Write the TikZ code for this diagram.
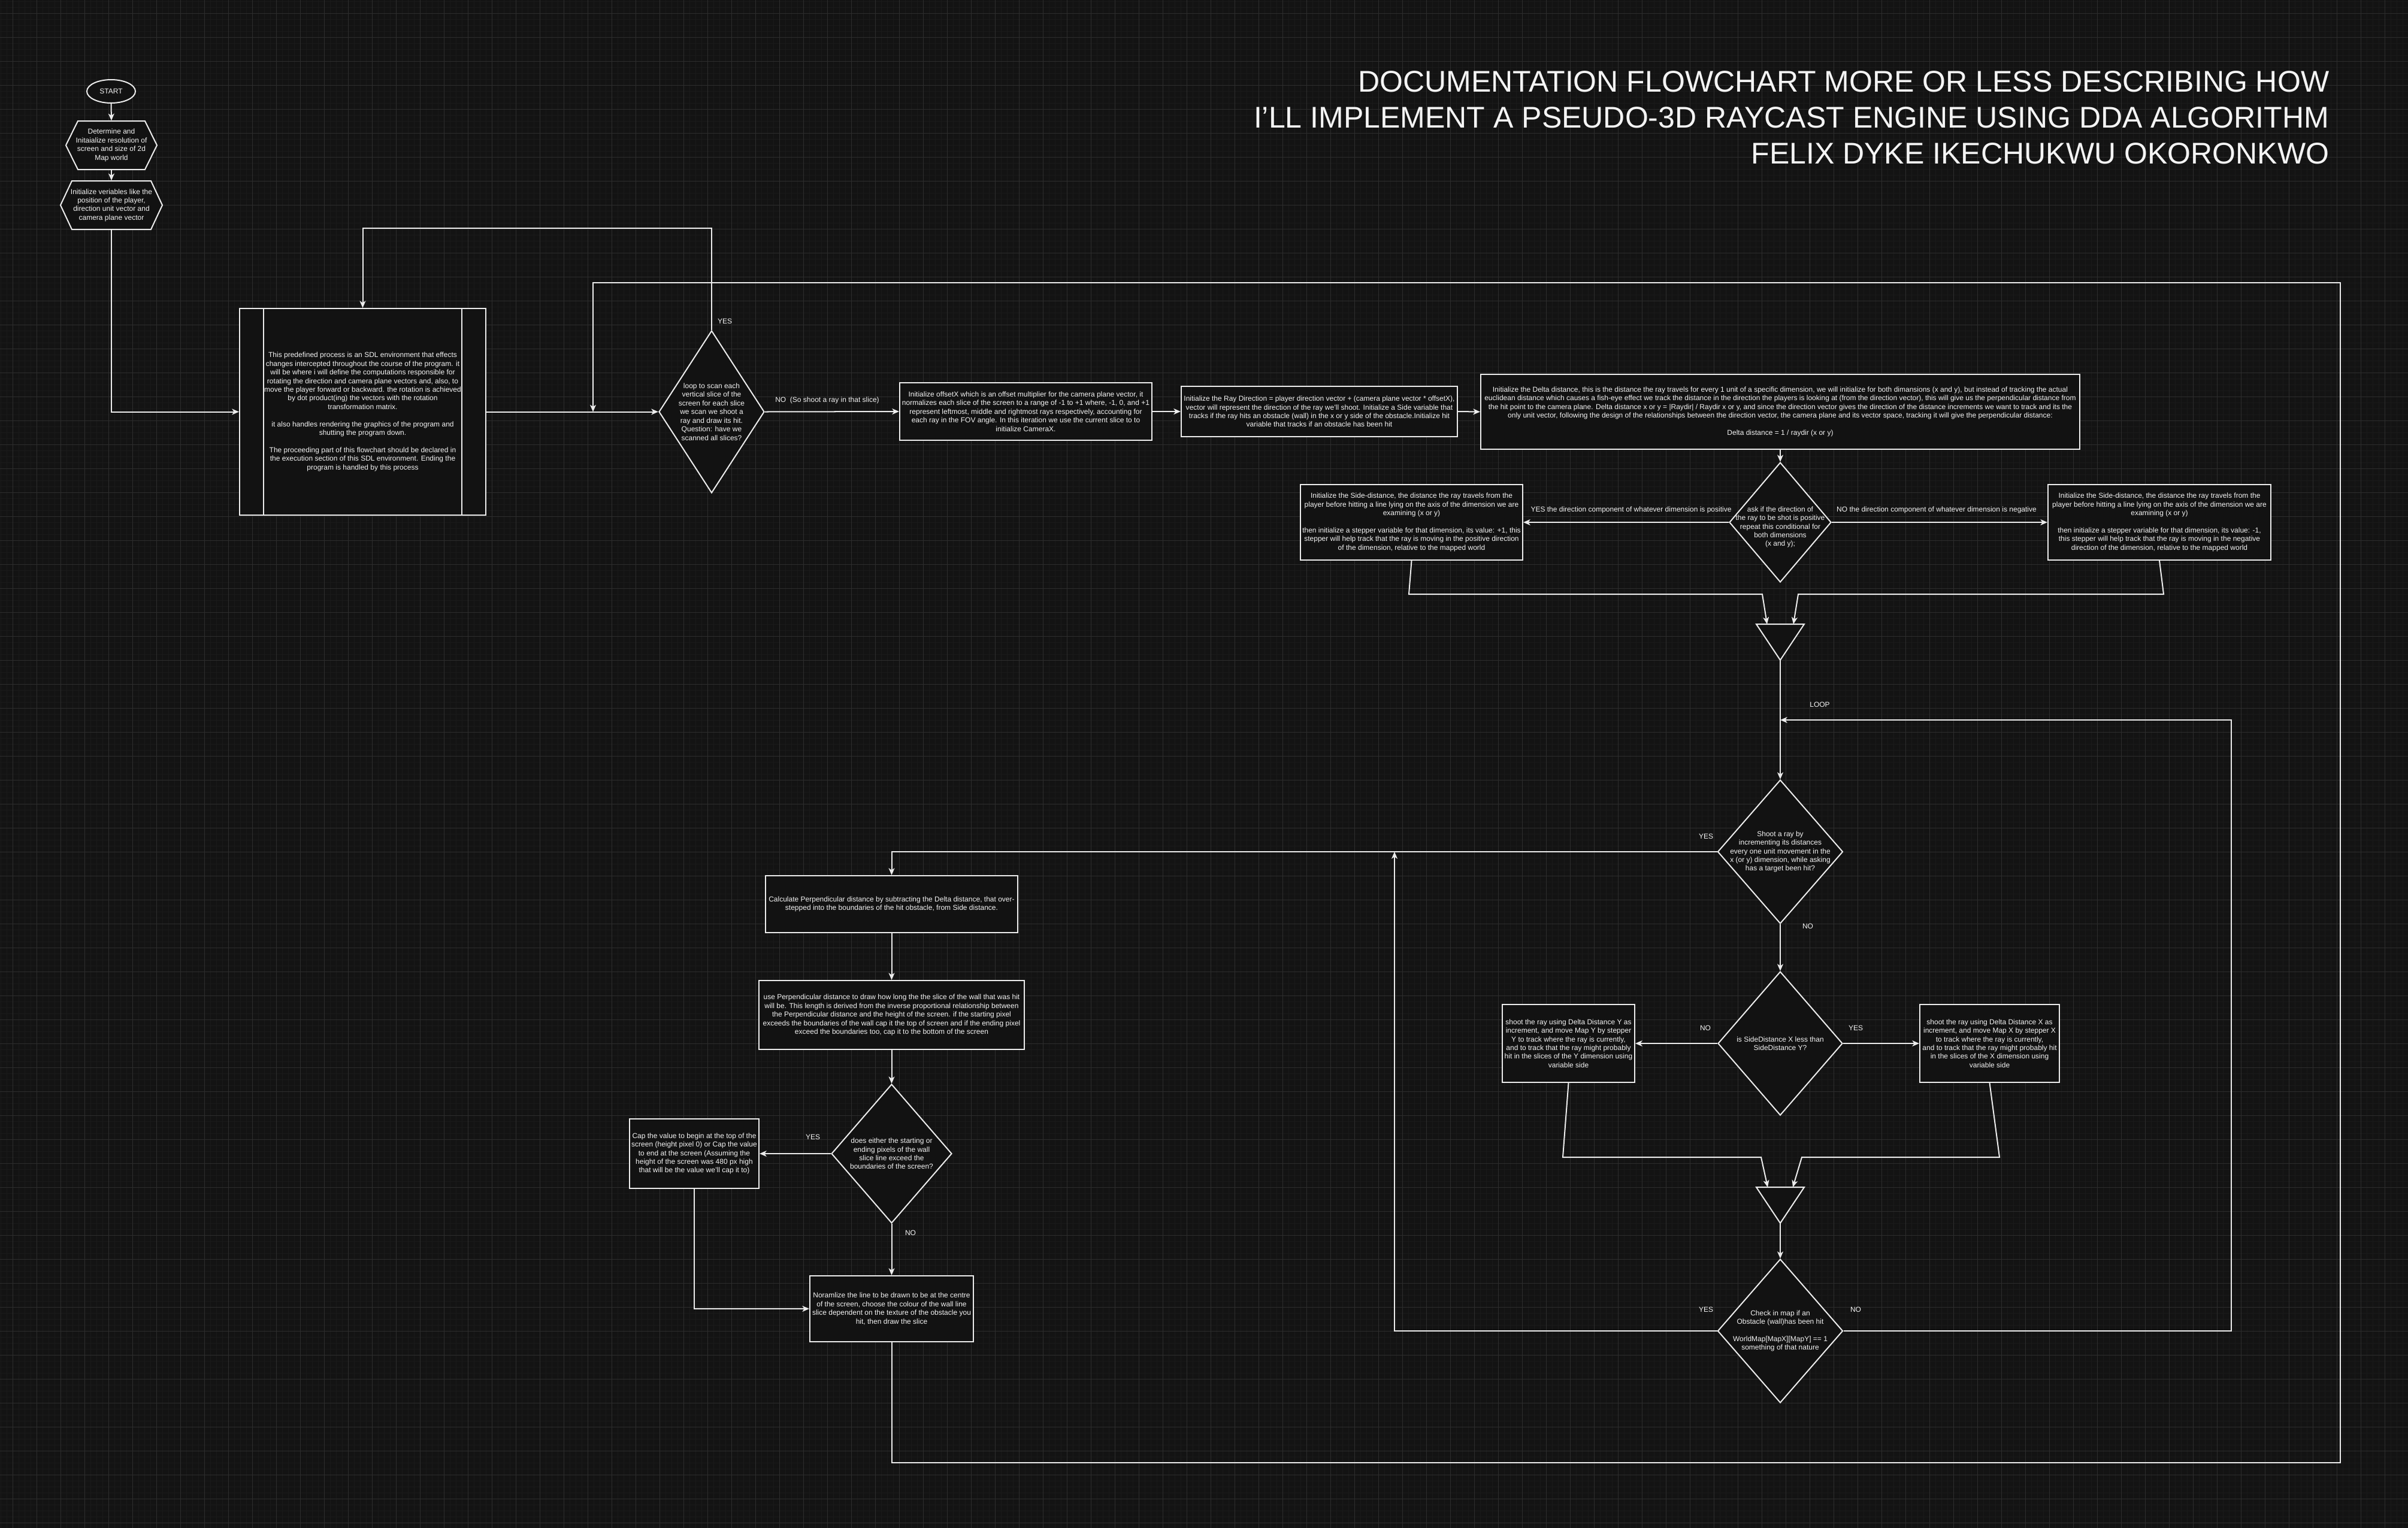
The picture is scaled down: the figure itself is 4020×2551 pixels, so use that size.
\documentclass[tikz,border=0pt]{standalone}
\usepackage{fontspec}
\setmainfont{Liberation Sans}
\usetikzlibrary{shapes.geometric,arrows.meta,calc}
\definecolor{bgc}{HTML}{131313}
\definecolor{gridc}{HTML}{1A1A1A}
\definecolor{gridm}{HTML}{2D2D2D}
\definecolor{boxf}{HTML}{121212}
\definecolor{lnc}{HTML}{ECECEC}
\definecolor{txc}{HTML}{F4F4F4}
\newcommand{\smf}{\fontsize{3.414pt}{4.097pt}\selectfont}
\newcommand{\ttlf}{\fontsize{14.23pt}{17.07pt}\selectfont}
\tikzset{
  sz/.style 2 args={minimum width=#1*0.01cm, minimum height=#2*0.01cm},
  basestyle/.style={line width=0.57pt, draw=lnc, fill=boxf, text=txc, font=\smf, align=center, inner sep=0pt},
  boxs/.style 2 args={basestyle, rectangle, sz={#1}{#2}},
  dias/.style 2 args={basestyle, diamond, sz={#1}{#2}},
  txtn/.style={text=txc, font=\smf, align=center, inner sep=0pt},
  lbl/.style={text=txc, font=\smf, inner sep=0pt},
  conn/.style={draw=lnc, line width=0.57pt},
  arr/.style={conn, -{Stealth[length=3.3pt, width=2.8pt, inset=0.9pt]}},
  gridl/.style={draw=gridc, line width=0.28pt},
}
\begin{document}
\begin{tikzpicture}[x=0.01cm, y=-0.01cm]
\useasboundingbox (0,0) rectangle (4020,2551);
\fill[bgc] (0,0) rectangle (4020,2551);
\foreach \gx in {1,11,...,4020} \draw[gridl] (\gx,0) -- (\gx,2551);
\foreach \gy in {2,12,...,2551} \draw[gridl] (0,\gy) -- (4020,\gy);
\foreach \gx in {21,61,...,4020} \draw[gridl, draw=gridm] (\gx,0) -- (\gx,2551);
\foreach \gy in {22,62,...,2551} \draw[gridl, draw=gridm] (0,\gy) -- (4020,\gy);

% title
\node[text=txc, font=\ttlf, align=right, anchor=east, inner sep=0pt] (title) at (3889,196)
 {DOCUMENTATION FLOWCHART MORE OR LESS DESCRIBING HOW\\I'LL IMPLEMENT A PSEUDO-3D RAYCAST ENGINE USING DDA ALGORITHM\\FELIX DYKE IKECHUKWU OKORONKWO};

% start and hexagons
\node[basestyle, ellipse, sz={81}{39}] (start) at (185.5,152.5) {START};
\draw[conn, fill=boxf] (110,242.5) -- (130,202) -- (242,202) -- (262,242.5) -- (242,283) -- (130,283) -- cycle;
\node[txtn, sz={152}{81}] (h1) at (186,242.5) {Determine and\\Initaialize resolution of\\screen and size of 2d\\Map world};
\draw[conn, fill=boxf] (101,342.5) -- (120,302) -- (252,302) -- (271,342.5) -- (252,383) -- (120,383) -- cycle;
\node[txtn, sz={170}{81}] (h2) at (186,342.5) {Initialize veriables like the\\position of the player,\\direction unit vector and\\camera plane vector};

% predefined process
\node[boxs={411}{345}] (pre) at (605.5,687.5) {This predefined process is an SDL environment that effects\\changes intercepted throughout the course of the program. it\\will be where i will define the computations responsible for\\rotating the direction and camera plane vectors and, also, to\\move the player forward or backward. the rotation is achieved\\by dot product(ing) the vectors with the rotation\\transformation matrix.\\[4.1pt]it also handles rendering the graphics of the program and\\shutting the program down.\\[4.1pt]The proceeding part of this flowchart should be declared in\\the execution section of this SDL environment. Ending the\\program is handled by this process};
\draw[conn] ($(pre.north west)+(41,0)$) -- ($(pre.south west)+(41,0)$);
\draw[conn] ($(pre.north east)+(-41,0)$) -- ($(pre.south east)+(-41,0)$);

% loop diamond
\node[dias={176}{271}] (loopd) at (1188,687.5) {};
\node[txtn] (loopdt) at (loopd) {loop to scan each\\vertical slice of the\\screen for each slice\\we scan we shoot a\\ray and draw its hit.\\Question: have we\\scanned all slices?};

% top row boxes
\node[boxs={421}{96}] (off) at (1712.5,687) {Initialize offsetX which is an offset multiplier for the camera plane vector, it\\normalizes each slice of the screen to a range of -1 to +1 where, -1, 0, and +1\\represent leftmost, middle and rightmost rays respectively, accounting for\\each ray in the FOV angle. In this iteration we use the current slice to to\\initialize CameraX.};
\node[boxs={461}{84}] (ray) at (2202.5,687) {Initialize the Ray Direction = player direction vector + (camera plane vector * offsetX),\\vector will represent the direction of the ray we'll shoot. Initialize a Side variable that\\tracks if the ray hits an obstacle (wall) in the x or y side of the obstacle.Initialize hit\\variable that tracks if an obstacle has been hit};
\node[boxs={1000}{125}] (delta) at (2972,687.5) {Initialize the Delta distance, this is the distance the ray travels for every 1 unit of a specific dimension, we will initialize for both dimansions (x and y), but instead of tracking the actual\\euclidean distance which causes a fish-eye effect we track the distance in the direction the players is looking at (from the direction vector), this will give us the perpendicular distance from\\the hit point to the camera plane. Delta distance x or y = |Raydir| / Raydir x or y, and since the direction vector gives the direction of the distance increments we want to track and its the\\only unit vector, following the design of the relationships between the direction vector, the camera plane and its vector space, tracking it will give the perpendicular distance:\\[4.1pt]Delta distance = 1 / raydir (x or y)};

% ask diamond and side boxes
\node[dias={170}{200}] (ask) at (2972,872) {};
\node[txtn] (askt) at ($(ask)+(0,8)$) {ask if the direction of\\the ray to be shot is positive\\repeat this conditional for\\both dimensions\\(x and y);};
\node[boxs={371}{126}] (sideL) at (2356.5,872) {Initialize the Side-distance, the distance the ray travels from the\\player before hitting a line lying on the axis of the dimension we are\\examining (x or y)\\[4.1pt]then initialize a stepper variable for that dimension, its value: +1, this\\stepper will help track that the ray is moving in the positive direction\\of the dimension, relative to the mapped world};
\node[boxs={372}{126}] (sideR) at (3605,872) {Initialize the Side-distance, the distance the ray travels from the\\player before hitting a line lying on the axis of the dimension we are\\examining (x or y)\\[4.1pt]then initialize a stepper variable for that dimension, its value: -1,\\this stepper will help track that the ray is moving in the negative\\direction of the dimension, relative to the mapped world};

% merge 1
\node[inner sep=0pt, outer sep=0pt, sz={80}{60}] (m1) at (2972,1072) {};
\draw[conn, fill=boxf] (m1.north west) -- (m1.north east) -- (m1.south) -- cycle;

% shoot diamond
\node[dias={209}{240}] (shoot) at (2972,1422) {};
\node[txtn] (shoott) at (shoot) {Shoot a ray by\\incrementing its distances\\every one unit movement in the\\x (or y) dimension, while asking\\has a target been hit?};

% side distance comparison
\node[dias={208}{240}] (sd) at (2972,1742) {};
\node[txtn] (sdt) at (sd) {is SideDistance X less than\\SideDistance Y?};
\node[boxs={221}{130}] (boxY) at (2618.5,1742) {shoot the ray using Delta Distance Y as\\increment, and move Map Y by stepper\\Y to track where the ray is currently,\\and to track that the ray might probably\\hit in the slices of the Y dimension using\\variable side};
\node[boxs={233}{130}] (boxX) at (3321.5,1742) {shoot the ray using Delta Distance X as\\increment, and move Map X by stepper X\\to track where the ray is currently,\\and to track that the ray might probably hit\\in the slices of the X dimension using\\variable side};

% merge 2
\node[inner sep=0pt, outer sep=0pt, sz={80}{60}] (m2) at (2972,2012) {};
\draw[conn, fill=boxf] (m2.north west) -- (m2.north east) -- (m2.south) -- cycle;

% check diamond
\node[dias={209}{240}] (check) at (2972,2222) {};
\node[txtn] (checkt) at (check) {Check in map if an\\Obstacle (wall)has been hit\\[4.1pt]WorldMap[MapX][MapY] == 1\\something of that nature};

% left column
\node[boxs={421}{95}] (calc) at (1488.5,1509.5) {Calculate Perpendicular distance by subtracting the Delta distance, that over-\\stepped into the boundaries of the hit obstacle, from Side distance.};
\node[boxs={443}{115}] (use) at (1488.5,1694.5) {use Perpendicular distance to draw how long the the slice of the wall that was hit\\will be. This length is derived from the inverse proportional relationship between\\the Perpendicular distance and the height of the screen. if the starting pixel\\exceeds the boundaries of the wall cap it the top of screen and if the ending pixel\\exceed the boundaries too, cap it to the bottom of the screen};
\node[dias={201}{232}] (de) at (1488.5,1926) {};
\node[txtn] (det) at (de) {does either the starting or\\ending pixels of the wall\\slice line exceed the\\boundaries of the screen?};
\node[boxs={216}{116}] (cap) at (1159,1926) {Cap the value to begin at the top of the\\screen (height pixel 0) or Cap the value\\to end at the screen (Assuming the\\height of the screen was 480 px high\\that will be the value we'll cap it to)};
\node[boxs={273}{110}] (norm) at (1488.5,2185) {Noramlize the line to be drawn to be at the centre\\of the screen, choose the colour of the wall line\\slice dependent on the texture of the obstacle you\\hit, then draw the slice};

% coordinates for free ends
\coordinate (rejoin) at (990,687.5);
\coordinate (loopin) at (2972,1202);
\coordinate (yesjoin) at (2328,1422);

% connectors
\draw[arr] (start.south) -- (h1.north);
\draw[arr] (h1.south) -- (h2.north);
\draw[arr] (h2.south) |- (pre.west);
\draw[arr] (pre.east) -- (loopd.west);
\draw[arr] (loopd.north) -- ++(0,-170) -| (pre.north);
\draw[arr] (norm.south) -- ++(0,201) -| (3907,472) -| (rejoin);
\draw[arr] (loopd.east) -- (off.west);
\draw[arr] (off.east) -- (ray.west);
\draw[arr] (ray.east) -- (delta.west);
\draw[arr] (delta.south) -- (ask.north);
\draw[arr] (ask.west) -- (sideL.east);
\draw[arr] (ask.east) -- (sideR.west);
\draw[arr] (sideL.south) -- (2352,992) -- (2942,992) -- ($(m1.north)+(-22,0)$);
\draw[arr] (sideR.south) -- (3612,992) -- (3002,992) -- ($(m1.north)+(22,0)$);
\draw[arr] (m1.south) -- (shoot.north);
\draw[arr] (check.east) -- (3725,2222) -- (3725,1202) -- (loopin);
\draw[arr] (check.west) -| (yesjoin);
\draw[arr] (shoot.west) -| (calc.north);
\draw[arr] (shoot.south) -- (sd.north);
\draw[arr] (sd.west) -- (boxY.east);
\draw[arr] (sd.east) -- (boxX.west);
\draw[arr] (boxY.south) -- (2609,1932) -- (2940,1932) -- ($(m2.north)+(-21,0)$);
\draw[arr] (boxX.south) -- (3338,1932) -- (3008,1932) -- ($(m2.north)+(21,0)$);
\draw[arr] (m2.south) -- (check.north);
\draw[arr] (calc.south) -- (use.north);
\draw[arr] (use.south) -- (de.north);
\draw[arr] (de.west) -- (cap.east);
\draw[arr] (de.south) -- (norm.north);
\draw[arr] (cap.south) |- (norm.west);

% labels
\node[lbl] (l1) at (1210,536) {YES};
\node[lbl] (l2) at (1381,668) {NO\ \ (So shoot a ray in that slice)};
\node[lbl] (l3) at (2723,851) {YES the direction component of whatever dimension is positive};
\node[lbl] (l4) at (3233,851) {NO the direction component of whatever dimension is negative};
\node[lbl] (l5) at (3038,1176) {LOOP};
\node[lbl] (l6) at (2848,1396) {YES};
\node[lbl] (l7) at (3018,1546) {NO};
\node[lbl] (l8) at (2847,1716) {NO};
\node[lbl] (l9) at (3098,1716) {YES};
\node[lbl] (l10) at (2848,2186) {YES};
\node[lbl] (l11) at (3098,2186) {NO};
\node[lbl] (l12) at (1357,1898) {YES};
\node[lbl] (l13) at (1520,2058) {NO};
\end{tikzpicture}
\end{document}
